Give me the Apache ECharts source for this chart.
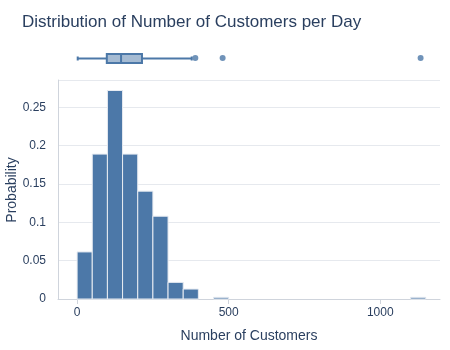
<!DOCTYPE html>
<html><head><meta charset="utf-8">
<script src="https://cdn.jsdelivr.net/npm/echarts@6/dist/echarts.min.js"></script>
<style>html,body{margin:0;padding:0;background:#fff}#c{width:450px;height:350px}</style>
</head><body><div id="c"></div>
<script>
// Histogram bins (lower edge, upper edge) and probabilities
const binStarts = [0, 50, 100, 150, 200, 250, 300, 350, 450, 1100];
const binEnds   = [50, 100, 150, 200, 250, 300, 350, 400, 500, 1150];
const probabilities = [0.0614, 0.189, 0.272, 0.189, 0.1407, 0.108, 0.0217, 0.013, 0.0022, 0.0022];
// Box plot stats: [lower whisker, Q1, median, Q3, upper whisker]
const boxStats = [2, 98, 145, 214, 378];
const outliers = [390, 480, 1133];
const xTicks = [0, 500, 1000];
const yTicks = [0, 0.05, 0.1, 0.15, 0.2, 0.25];

const FONT = '"Liberation Sans", Arial, sans-serif';
const TXT = '#2a3f5f';
const BLUE = '#4c78a8';

const histData = binStarts.map((s, i) => [s, binEnds[i], probabilities[i]]);

const chart = echarts.init(document.getElementById('c'), null, {renderer: 'canvas'});
chart.setOption({
  backgroundColor: '#fff',
  animation: false,
  textStyle: {fontFamily: FONT},
  title: {
    text: 'Distribution of Number of Customers per Day',
    left: 17, top: 9,
    textStyle: {fontFamily: FONT, fontSize: 17, fontWeight: 'normal', color: TXT}
  },
  graphic: [{
    type: 'text', x: 12, y: 190, rotation: Math.PI / 2,
    style: {text: 'Probability', fontFamily: FONT, fontSize: 14, fill: TXT,
            align: 'center', verticalAlign: 'middle'}
  }],
  grid: [
    {left: 58, right: 10, top: 40, height: 36, containLabel: false, outerBoundsMode: 'none'},
    {left: 58, right: 10, top: 80, bottom: 51, containLabel: false, outerBoundsMode: 'none'}
  ],
  xAxis: [
    {gridIndex: 0, type: 'value', min: -63, max: 1197, show: false},
    {gridIndex: 1, type: 'value', min: -63, max: 1197,
     name: 'Number of Customers', nameLocation: 'middle', nameGap: 30,
     nameTextStyle: {fontFamily: FONT, fontSize: 14, color: TXT},
     axisLine: {show: true, onZero: false, lineStyle: {color: '#cfd4dc', width: 1}},
     axisTick: {show: true, customValues: xTicks, length: 5, lineStyle: {color: '#cfd4dc'}},
     axisLabel: {customValues: xTicks, fontFamily: FONT, fontSize: 12, color: TXT, margin: 8,
       formatter: v => String(v)},
     splitLine: {show: false}}
  ],
  yAxis: [
    {gridIndex: 0, type: 'value', min: -1, max: 1, show: false},
    {gridIndex: 1, type: 'value', min: 0, max: 0.2857, interval: 0.05,
     axisLine: {show: true, onZero: false, lineStyle: {color: '#cfd4dc', width: 1}},
     axisTick: {show: false},
     axisLabel: {showMaxLabel: false, fontFamily: FONT, fontSize: 12, color: TXT, margin: 12,
       formatter: v => yTicks.some(t => Math.abs(t - v) < 1e-9) ? String(+v.toFixed(2)) : ''},
     splitLine: {show: true, lineStyle: {color: '#e6e9ee', width: 1}}}
  ],
  series: [
    {
      type: 'custom', xAxisIndex: 1, yAxisIndex: 1,
      data: histData,
      renderItem: function (params, api) {
        const p0 = api.coord([api.value(0), 0]);
        const p1 = api.coord([api.value(1), api.value(2)]);
        return {
          type: 'rect',
          shape: {x: p0[0], y: p1[1], width: p1[0] - p0[0], height: p0[1] - p1[1]},
          style: {fill: BLUE, stroke: '#e8ecf2', lineWidth: 1}
        };
      }
    },
    {
      type: 'custom', xAxisIndex: 0, yAxisIndex: 0,
      data: [boxStats],
      renderItem: function (params, api) {
        const lo = api.coord([api.value(0), 0]);
        const q1 = api.coord([api.value(1), 0]);
        const md = api.coord([api.value(2), 0]);
        const q3 = api.coord([api.value(3), 0]);
        const hi = api.coord([api.value(4), 0]);
        const y = lo[1] + 0.5;
        const h = 9, c = 2;
        const ls = {stroke: BLUE, lineWidth: 2};
        return {
          type: 'group',
          children: [
            {type: 'line', shape: {x1: lo[0], y1: y, x2: q1[0], y2: y}, style: ls},
            {type: 'line', shape: {x1: q3[0], y1: y, x2: hi[0], y2: y}, style: ls},
            {type: 'line', shape: {x1: lo[0], y1: y - c, x2: lo[0], y2: y + c}, style: ls},
            {type: 'line', shape: {x1: hi[0], y1: y - c, x2: hi[0], y2: y + c}, style: ls},
            {type: 'rect', shape: {x: q1[0], y: y - h / 2, width: q3[0] - q1[0], height: h},
             style: {fill: 'rgba(76,120,168,0.5)', stroke: BLUE, lineWidth: 2}},
            {type: 'line', shape: {x1: md[0], y1: y - h / 2, x2: md[0], y2: y + h / 2}, style: ls}
          ]
        };
      }
    },
    {
      type: 'scatter', xAxisIndex: 0, yAxisIndex: 0,
      data: outliers.map(v => [v, 0]),
      symbol: 'circle', symbolSize: 6,
      itemStyle: {color: BLUE}
    }
  ]
});
</script></body></html>
